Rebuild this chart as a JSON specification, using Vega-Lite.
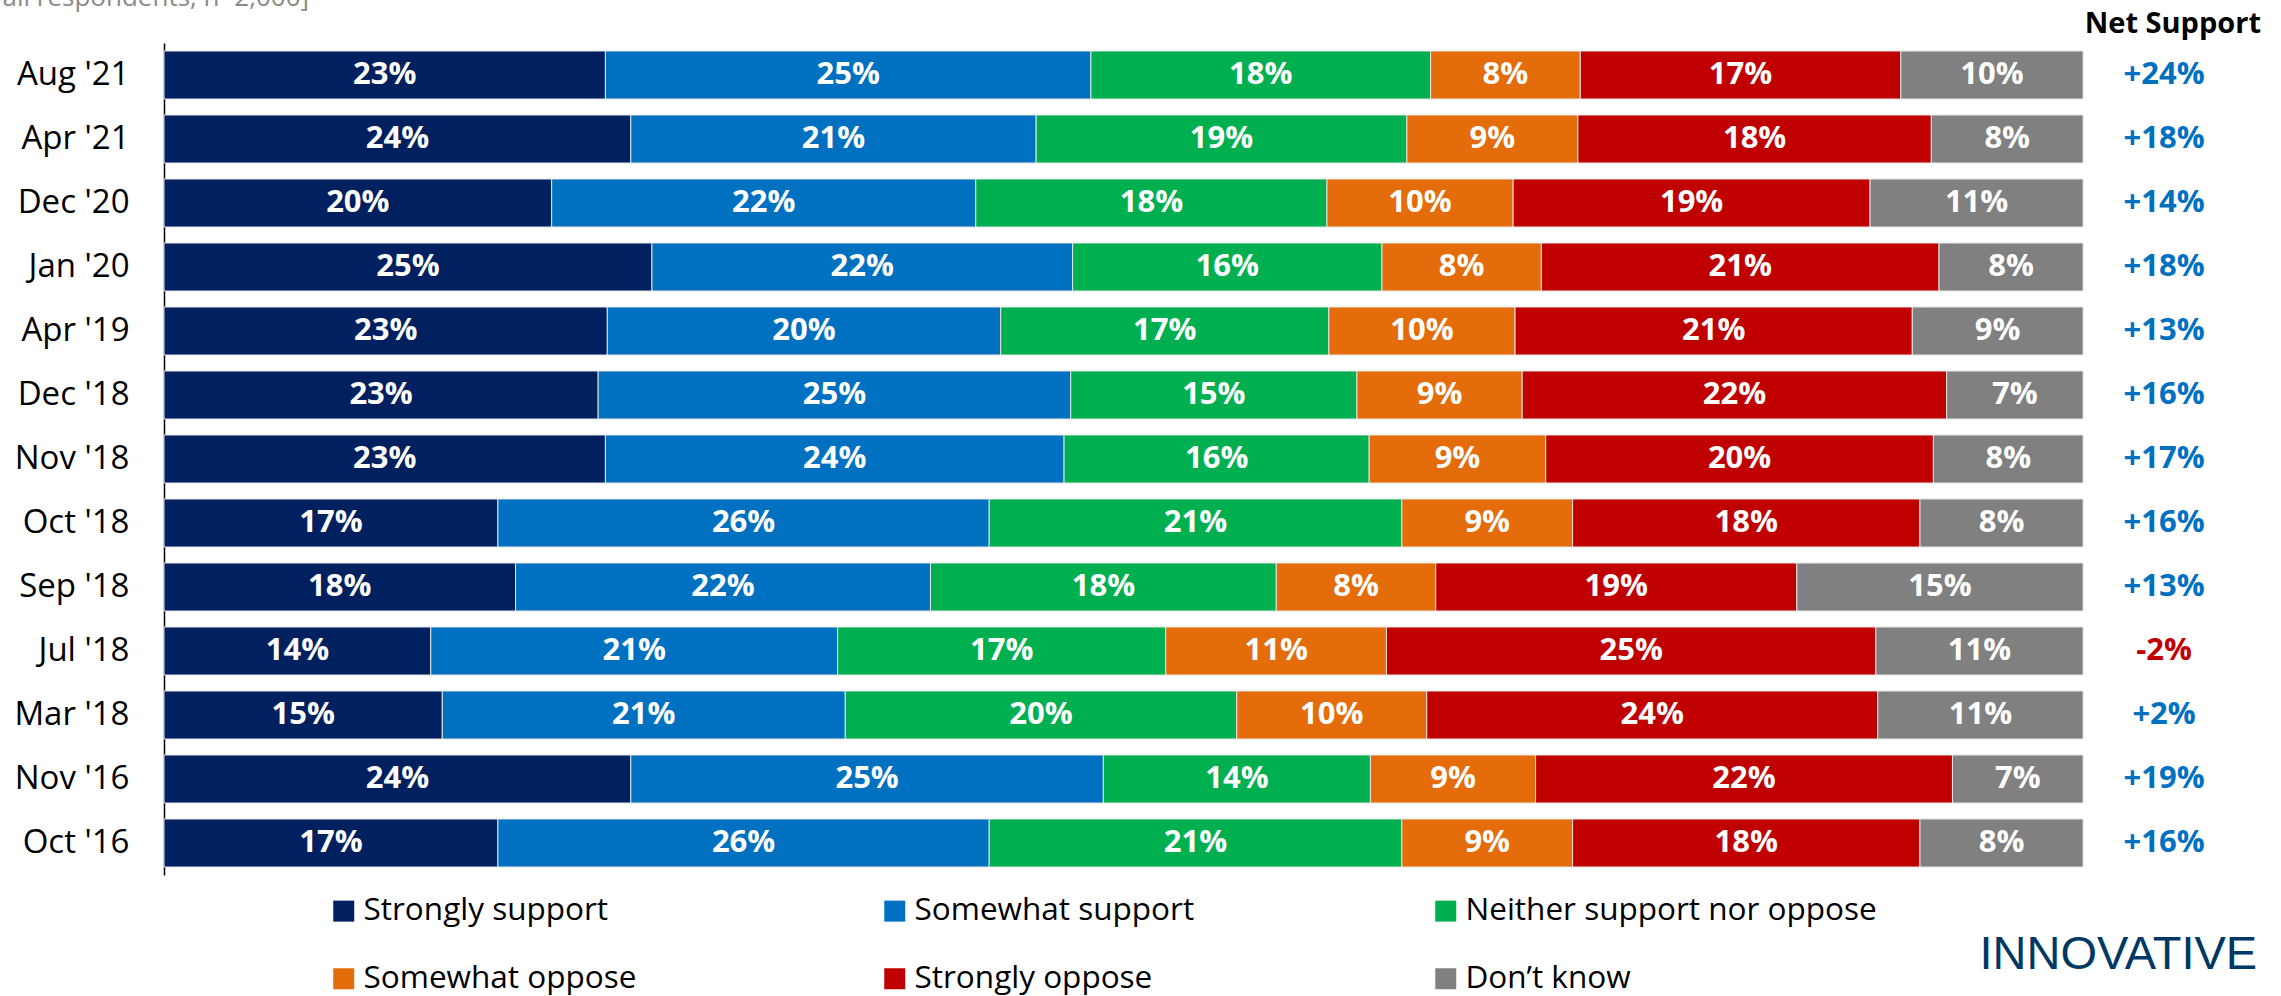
{
  "$schema": "https://vega.github.io/schema/vega-lite/v6.json",
  "width": 2111,
  "height": 832,
  "autosize": {"type": "none"},
  "padding": {"left": 164, "top": 43, "right": 6, "bottom": 121},
  "background": "white",
  "title": {"text": "Net Support", "anchor": "end", "frame": "group", "dx": -14, "dy": 78, "offset": 0, "baseline": "alphabetic", "font": "Open Sans", "fontSize": 29, "fontWeight": "bold", "color": "black"},
  "config": {"view": {"stroke": null}},
  "datasets": {
    "bars": [
      {"period": "Aug '21", "response": "Strongly support", "pct": 23.0, "label": "23%"},
      {"period": "Aug '21", "response": "Somewhat support", "pct": 25.3, "label": "25%"},
      {"period": "Aug '21", "response": "Neither support nor oppose", "pct": 17.7, "label": "18%"},
      {"period": "Aug '21", "response": "Somewhat oppose", "pct": 7.8, "label": "8%"},
      {"period": "Aug '21", "response": "Strongly oppose", "pct": 16.7, "label": "17%"},
      {"period": "Aug '21", "response": "Don’t know", "pct": 9.5, "label": "10%"},
      {"period": "Apr '21", "response": "Strongly support", "pct": 24.3, "label": "24%"},
      {"period": "Apr '21", "response": "Somewhat support", "pct": 21.1, "label": "21%"},
      {"period": "Apr '21", "response": "Neither support nor oppose", "pct": 19.3, "label": "19%"},
      {"period": "Apr '21", "response": "Somewhat oppose", "pct": 8.9, "label": "9%"},
      {"period": "Apr '21", "response": "Strongly oppose", "pct": 18.4, "label": "18%"},
      {"period": "Apr '21", "response": "Don’t know", "pct": 7.9, "label": "8%"},
      {"period": "Dec '20", "response": "Strongly support", "pct": 20.2, "label": "20%"},
      {"period": "Dec '20", "response": "Somewhat support", "pct": 22.1, "label": "22%"},
      {"period": "Dec '20", "response": "Neither support nor oppose", "pct": 18.3, "label": "18%"},
      {"period": "Dec '20", "response": "Somewhat oppose", "pct": 9.7, "label": "10%"},
      {"period": "Dec '20", "response": "Strongly oppose", "pct": 18.6, "label": "19%"},
      {"period": "Dec '20", "response": "Don’t know", "pct": 11.1, "label": "11%"},
      {"period": "Jan '20", "response": "Strongly support", "pct": 25.4, "label": "25%"},
      {"period": "Jan '20", "response": "Somewhat support", "pct": 21.9, "label": "22%"},
      {"period": "Jan '20", "response": "Neither support nor oppose", "pct": 16.1, "label": "16%"},
      {"period": "Jan '20", "response": "Somewhat oppose", "pct": 8.3, "label": "8%"},
      {"period": "Jan '20", "response": "Strongly oppose", "pct": 20.7, "label": "21%"},
      {"period": "Jan '20", "response": "Don’t know", "pct": 7.5, "label": "8%"},
      {"period": "Apr '19", "response": "Strongly support", "pct": 23.1, "label": "23%"},
      {"period": "Apr '19", "response": "Somewhat support", "pct": 20.5, "label": "20%"},
      {"period": "Apr '19", "response": "Neither support nor oppose", "pct": 17.1, "label": "17%"},
      {"period": "Apr '19", "response": "Somewhat oppose", "pct": 9.7, "label": "10%"},
      {"period": "Apr '19", "response": "Strongly oppose", "pct": 20.7, "label": "21%"},
      {"period": "Apr '19", "response": "Don’t know", "pct": 8.9, "label": "9%"},
      {"period": "Dec '18", "response": "Strongly support", "pct": 22.6, "label": "23%"},
      {"period": "Dec '18", "response": "Somewhat support", "pct": 24.6, "label": "25%"},
      {"period": "Dec '18", "response": "Neither support nor oppose", "pct": 14.9, "label": "15%"},
      {"period": "Dec '18", "response": "Somewhat oppose", "pct": 8.6, "label": "9%"},
      {"period": "Dec '18", "response": "Strongly oppose", "pct": 22.1, "label": "22%"},
      {"period": "Dec '18", "response": "Don’t know", "pct": 7.1, "label": "7%"},
      {"period": "Nov '18", "response": "Strongly support", "pct": 23.0, "label": "23%"},
      {"period": "Nov '18", "response": "Somewhat support", "pct": 23.9, "label": "24%"},
      {"period": "Nov '18", "response": "Neither support nor oppose", "pct": 15.9, "label": "16%"},
      {"period": "Nov '18", "response": "Somewhat oppose", "pct": 9.2, "label": "9%"},
      {"period": "Nov '18", "response": "Strongly oppose", "pct": 20.2, "label": "20%"},
      {"period": "Nov '18", "response": "Don’t know", "pct": 7.8, "label": "8%"},
      {"period": "Oct '18", "response": "Strongly support", "pct": 17.4, "label": "17%"},
      {"period": "Oct '18", "response": "Somewhat support", "pct": 25.6, "label": "26%"},
      {"period": "Oct '18", "response": "Neither support nor oppose", "pct": 21.5, "label": "21%"},
      {"period": "Oct '18", "response": "Somewhat oppose", "pct": 8.9, "label": "9%"},
      {"period": "Oct '18", "response": "Strongly oppose", "pct": 18.1, "label": "18%"},
      {"period": "Oct '18", "response": "Don’t know", "pct": 8.5, "label": "8%"},
      {"period": "Sep '18", "response": "Strongly support", "pct": 18.3, "label": "18%"},
      {"period": "Sep '18", "response": "Somewhat support", "pct": 21.6, "label": "22%"},
      {"period": "Sep '18", "response": "Neither support nor oppose", "pct": 18.0, "label": "18%"},
      {"period": "Sep '18", "response": "Somewhat oppose", "pct": 8.3, "label": "8%"},
      {"period": "Sep '18", "response": "Strongly oppose", "pct": 18.8, "label": "19%"},
      {"period": "Sep '18", "response": "Don’t know", "pct": 14.9, "label": "15%"},
      {"period": "Jul '18", "response": "Strongly support", "pct": 13.9, "label": "14%"},
      {"period": "Jul '18", "response": "Somewhat support", "pct": 21.2, "label": "21%"},
      {"period": "Jul '18", "response": "Neither support nor oppose", "pct": 17.1, "label": "17%"},
      {"period": "Jul '18", "response": "Somewhat oppose", "pct": 11.5, "label": "11%"},
      {"period": "Jul '18", "response": "Strongly oppose", "pct": 25.5, "label": "25%"},
      {"period": "Jul '18", "response": "Don’t know", "pct": 10.8, "label": "11%"},
      {"period": "Mar '18", "response": "Strongly support", "pct": 14.5, "label": "15%"},
      {"period": "Mar '18", "response": "Somewhat support", "pct": 21.0, "label": "21%"},
      {"period": "Mar '18", "response": "Neither support nor oppose", "pct": 20.4, "label": "20%"},
      {"period": "Mar '18", "response": "Somewhat oppose", "pct": 9.9, "label": "10%"},
      {"period": "Mar '18", "response": "Strongly oppose", "pct": 23.5, "label": "24%"},
      {"period": "Mar '18", "response": "Don’t know", "pct": 10.7, "label": "11%"},
      {"period": "Nov '16", "response": "Strongly support", "pct": 24.3, "label": "24%"},
      {"period": "Nov '16", "response": "Somewhat support", "pct": 24.6, "label": "25%"},
      {"period": "Nov '16", "response": "Neither support nor oppose", "pct": 13.9, "label": "14%"},
      {"period": "Nov '16", "response": "Somewhat oppose", "pct": 8.6, "label": "9%"},
      {"period": "Nov '16", "response": "Strongly oppose", "pct": 21.7, "label": "22%"},
      {"period": "Nov '16", "response": "Don’t know", "pct": 6.8, "label": "7%"},
      {"period": "Oct '16", "response": "Strongly support", "pct": 17.4, "label": "17%"},
      {"period": "Oct '16", "response": "Somewhat support", "pct": 25.6, "label": "26%"},
      {"period": "Oct '16", "response": "Neither support nor oppose", "pct": 21.5, "label": "21%"},
      {"period": "Oct '16", "response": "Somewhat oppose", "pct": 8.9, "label": "9%"},
      {"period": "Oct '16", "response": "Strongly oppose", "pct": 18.1, "label": "18%"},
      {"period": "Oct '16", "response": "Don’t know", "pct": 8.5, "label": "8%"}
    ],
    "net": [
      {"period": "Aug '21", "net": 24, "netLabel": "+24%"},
      {"period": "Apr '21", "net": 18, "netLabel": "+18%"},
      {"period": "Dec '20", "net": 14, "netLabel": "+14%"},
      {"period": "Jan '20", "net": 18, "netLabel": "+18%"},
      {"period": "Apr '19", "net": 13, "netLabel": "+13%"},
      {"period": "Dec '18", "net": 16, "netLabel": "+16%"},
      {"period": "Nov '18", "net": 17, "netLabel": "+17%"},
      {"period": "Oct '18", "net": 16, "netLabel": "+16%"},
      {"period": "Sep '18", "net": 13, "netLabel": "+13%"},
      {"period": "Jul '18", "net": -2, "netLabel": "-2%"},
      {"period": "Mar '18", "net": 2, "netLabel": "+2%"},
      {"period": "Nov '16", "net": 19, "netLabel": "+19%"},
      {"period": "Oct '16", "net": 16, "netLabel": "+16%"}
    ]
  },
  "encoding": {
    "y": {
      "field": "period",
      "type": "nominal",
      "sort": ["Aug '21", "Apr '21", "Dec '20", "Jan '20", "Apr '19", "Dec '18", "Nov '18", "Oct '18", "Sep '18", "Jul '18", "Mar '18", "Nov '16", "Oct '16"],
      "scale": {"paddingInner": 0.25, "paddingOuter": 0.125},
      "axis": {
        "title": "all respondents, n=2,000]",
        "titleAngle": 0,
        "titleX": -162,
        "titleY": -38,
        "titleAlign": "left",
        "titleBaseline": "alphabetic",
        "titleFont": "Open Sans",
        "titleFontSize": 26,
        "titleFontWeight": "normal",
        "titleColor": "#8a8a8a",
        "labelFont": "Open Sans",
        "labelFontSize": 33,
        "labelColor": "black",
        "labelPadding": 35,
        "ticks": false,
        "grid": false,
        "domainColor": "black",
        "domainWidth": 1.5
      }
    }
  },
  "layer": [
    {
      "data": {"name": "bars"},
      "transform": [
        {"calculate": "indexof(['Strongly support','Somewhat support','Neither support nor oppose','Somewhat oppose','Strongly oppose','Don’t know'], datum.response)", "as": "ord"},
        {"stack": "pct", "groupby": ["period"], "sort": [{"field": "ord", "order": "ascending"}], "offset": "normalize", "as": ["x0", "x1"]},
        {"calculate": "(datum.x0 + datum.x1) / 2", "as": "xm"}
      ],
      "layer": [
        {
          "mark": {"type": "bar", "stroke": "#e4e4e4", "strokeWidth": 1},
          "encoding": {
            "x": {
              "field": "x0",
              "type": "quantitative",
              "scale": {"domain": [0, 1.1], "nice": false, "zero": true},
              "axis": {
                "labels": false,
                "ticks": false,
                "domain": false,
                "grid": false,
                "title": "INNOVATIVE",
                "titleX": 1815,
                "titleY": 93,
                "titleAlign": "left",
                "titleBaseline": "alphabetic",
                "titleFont": "Liberation Sans",
                "titleFontSize": 47,
                "titleFontWeight": "normal",
                "titleColor": "#003865"
              }
            },
            "x2": {"field": "x1"},
            "color": {
              "field": "response",
              "type": "nominal",
              "scale": {
                "domain": ["Strongly support", "Somewhat support", "Neither support nor oppose", "Somewhat oppose", "Strongly oppose", "Don’t know"],
                "range": ["#002060", "#0070C0", "#00B050", "#E46C0A", "#C00000", "#808080"]
              },
              "legend": {
                "orient": "none",
                "legendX": 164,
                "legendY": 852,
                "direction": "horizontal",
                "columns": 3,
                "gridAlign": "all",
                "columnPadding": 104,
                "rowPadding": 35,
                "symbolType": "square",
                "symbolSize": 441,
                "symbolStrokeWidth": 0,
                "symbolOpacity": 1,
                "labelFont": "Open Sans",
                "labelFontSize": 31.5,
                "labelColor": "black",
                "labelOffset": 4,
                "labelLimit": 0,
                "title": null
              }
            }
          }
        },
        {
          "mark": {"type": "text", "font": "Open Sans", "fontSize": 31, "fontWeight": "bold", "color": "white", "align": "center", "baseline": "middle"},
          "encoding": {
            "x": {"field": "xm", "type": "quantitative"},
            "text": {"field": "label"}
          }
        }
      ]
    },
    {
      "data": {"name": "net"},
      "mark": {"type": "text", "font": "Open Sans", "fontSize": 31, "fontWeight": "bold", "align": "center", "baseline": "middle"},
      "encoding": {
        "x": {"datum": 1.0422, "type": "quantitative"},
        "text": {"field": "netLabel"},
        "color": {"condition": {"test": "datum.net < 0", "value": "#C00000"}, "value": "#0070C0"}
      }
    }
  ]
}
